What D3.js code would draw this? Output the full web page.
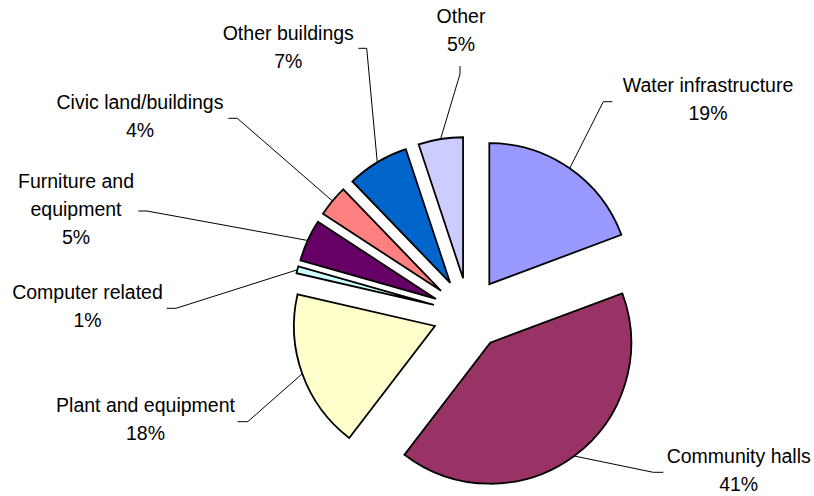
<!DOCTYPE html>
<html>
<head>
<meta charset="utf-8">
<script src="https://cdn.jsdelivr.net/npm/d3@7"></script>
<style>
  html, body { margin: 0; padding: 0; background: #ffffff; }
  svg { display: block; }
  text { font-family: "Liberation Sans", Arial, sans-serif; font-size: 19.5px; fill: #000; }
</style>
</head>
<body>
<svg id="chart" width="814" height="496"></svg>
<script>
// Capital spending by asset type (share of total, %)
const categories = [
  "Water infrastructure",
  "Community halls",
  "Plant and equipment",
  "Computer related",
  "Furniture and\nequipment",
  "Civic land/buildings",
  "Other buildings",
  "Other"
];
const values = [19.3, 41.1, 18.2, 0.8, 4.8, 3.6, 7.1, 5.1];
const colors = ["#9999FF", "#993366", "#FFFFCC", "#CCFFFF", "#660066", "#FF8080", "#0066CC", "#CCCCFF"];

// Label placement: text centre x, first baseline y, tick end and elbow of the leader line
const labelLayout = [
  { cx: 708,   y: 91.7,  end: [612.3, 101.7], elbow: [603.3, 101.7] },
  { cx: 738.7, y: 463.3, end: [663.3, 472.3], elbow: [653.3, 472.3] },
  { cx: 145.5, y: 411.7, end: [237.7, 421.7], elbow: [247.7, 421.7] },
  { cx: 87.5,  y: 299.3, end: [166.7, 308.3], elbow: [176.0, 308.3] },
  { cx: 76,    y: 188.3, end: [138.3, 211.0], elbow: [147.0, 211.0] },
  { cx: 140,   y: 109.3, end: [228.3, 118.3], elbow: [237.3, 118.3] },
  { cx: 288.3, y: 40,    end: [358.3, 48.3],  elbow: [366.7, 48.3] },
  { cx: 461,   y: 23.3,  end: [460.0, 66.0],  elbow: [460.0, 74.0] }
];
const lineHeight = 28;

const svg = d3.select("#chart");
const cx = 468.8, cy = 313.8;     // pie centre
const radius = 141;
const explode = 36;                // every slice pulled out by the same distance

const total = d3.sum(values);
const pct = d3.format(".0%");

const pie = d3.pie().sort(null).value(d => d);
const arcs = pie(values);
const arc = d3.arc().innerRadius(0).outerRadius(radius);

const g = svg.append("g").attr("transform", `translate(${cx},${cy})`);

function offset(a) {
  const mid = (a.startAngle + a.endAngle) / 2;
  return [Math.sin(mid) * explode, -Math.cos(mid) * explode];
}

g.selectAll("path.slice")
  .data(arcs)
  .join("path")
  .attr("class", "slice")
  .attr("transform", d => { const o = offset(d); return `translate(${o[0]},${o[1]})`; })
  .attr("d", arc)
  .attr("fill", (d, i) => colors[i])
  .attr("stroke", "#000")
  .attr("stroke-width", 1.8)
  .attr("stroke-linejoin", "miter");

// Leader lines: from the middle of each slice's outer arc to its label
const leaders = svg.append("g");
arcs.forEach((d, i) => {
  const mid = (d.startAngle + d.endAngle) / 2;
  const o = offset(d);
  const px = cx + o[0] + Math.sin(mid) * radius;
  const py = cy + o[1] - Math.cos(mid) * radius;
  const L = labelLayout[i];
  leaders.append("polyline")
    .attr("points", [[px, py], L.elbow, L.end].map(p => p.join(",")).join(" "))
    .attr("fill", "none")
    .attr("stroke", "#000")
    .attr("stroke-width", 1);
});

// Category and percentage labels
const labels = svg.append("g");
arcs.forEach((d, i) => {
  const L = labelLayout[i];
  const lines = categories[i].split("\n").concat([pct(values[i] / total)]);
  const t = labels.append("text")
    .attr("text-anchor", "middle");
  lines.forEach((s, k) => {
    t.append("tspan")
      .attr("x", L.cx)
      .attr("y", L.y + k * lineHeight)
      .text(s);
  });
});
</script>
</body>
</html>
